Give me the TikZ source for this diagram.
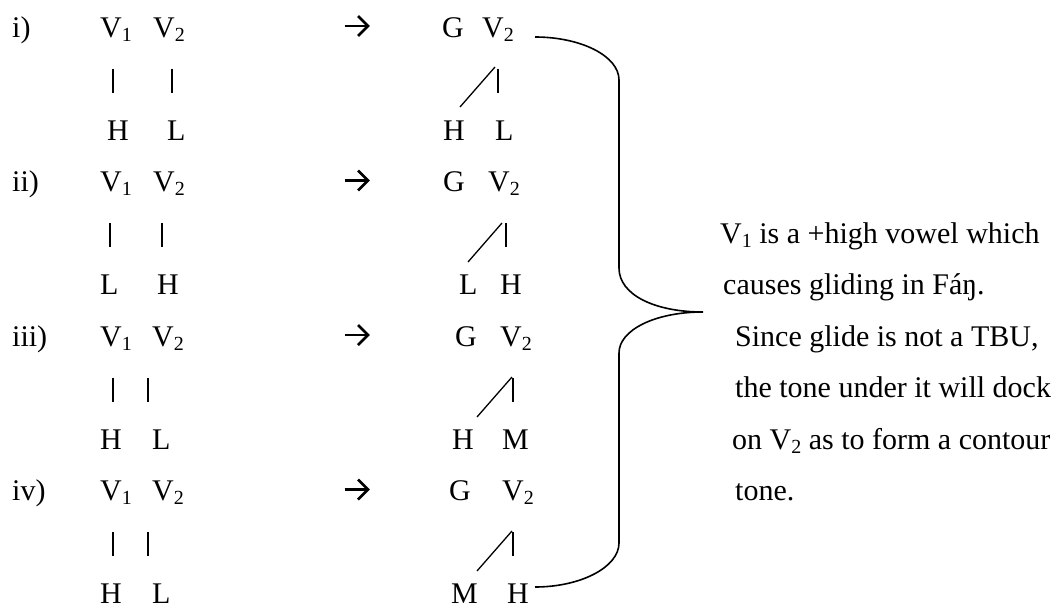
\documentclass[tikz,border=0pt]{standalone}
\usepackage{fontspec}
\setmainfont{Liberation Serif}
\newcommand\lsub[1]{\raisebox{-4pt}{\fontsize{20}{20}\selectfont #1}}
\tikzset{
  txt/.style={anchor=base west, inner sep=0pt, font=\fontsize{30}{36}\selectfont},
  assoc/.style={line width=1.3pt},
  bracepath/.style={line width=1.6pt},
  rarr/.pic={
    \draw[line width=2.6pt] (-12.5,0) -- (11,0);
    \draw[line width=2.6pt, line join=miter] (1,-10) -- (11,0) -- (1,10);
  }
}
\begin{document}
\begin{tikzpicture}[x=1pt,y=-1pt]
\useasboundingbox (0,0) rectangle (1053,608);

% ---------- row i ----------
\node[txt] (li) at (12,37) {i)};
\node[txt] (av1) at (100,37) {V\lsub{1}};
\node[txt] (av2) at (153,37) {V\lsub{2}};
\coordinate (ab1t) at (113,68.5); \coordinate (ab1b) at (113,92.5);
\coordinate (ab2t) at (172,68.5); \coordinate (ab2b) at (172,92.5);
\draw[assoc] (ab1t) -- (ab1b); \draw[assoc] (ab2t) -- (ab2b);
\node[txt] (at1) at (107,140) {H};
\node[txt] (at2) at (167,140) {L};
\pic at (357,26) {rarr};
\node[txt] (ag) at (442,37) {G};
\node[txt] (agv) at (482,37) {V\lsub{2}};
\coordinate (ad1) at (460,107); \coordinate (ad2) at (495,67);
\coordinate (ac1) at (498,68.5); \coordinate (ac2) at (498,92.5);
\draw[assoc] (ad1) -- (ad2); \draw[assoc] (ac1) -- (ac2);
\node[txt] (ar1) at (443,140) {H};
\node[txt] (ar2) at (495,140) {L};

% ---------- row ii ----------
\node[txt] (lii) at (12,191.5) {ii)};
\node[txt] (bv1) at (100,191.5) {V\lsub{1}};
\node[txt] (bv2) at (153,191.5) {V\lsub{2}};
\coordinate (bb1t) at (110,223); \coordinate (bb1b) at (110,247);
\coordinate (bb2t) at (162,223); \coordinate (bb2b) at (162,247);
\draw[assoc] (bb1t) -- (bb1b); \draw[assoc] (bb2t) -- (bb2b);
\node[txt] (bt1) at (100,294.5) {L};
\node[txt] (bt2) at (157,294.5) {H};
\pic at (357,180.5) {rarr};
\node[txt] (bg) at (443,191.5) {G};
\node[txt] (bgv) at (488,191.5) {V\lsub{2}};
\coordinate (bd1) at (468,262); \coordinate (bd2) at (502,223);
\coordinate (bc1) at (506,223); \coordinate (bc2) at (506,247);
\draw[assoc] (bd1) -- (bd2); \draw[assoc] (bc1) -- (bc2);
\node[txt] (br1) at (459,294.5) {L};
\node[txt] (br2) at (500,294.5) {H};

% ---------- row iii ----------
\node[txt] (liii) at (12,346) {iii)};
\node[txt] (cv1) at (100,346) {V\lsub{1}};
\node[txt] (cv2) at (152,346) {V\lsub{2}};
\coordinate (cb1t) at (113,377.5); \coordinate (cb1b) at (113,401.5);
\coordinate (cb2t) at (148,377.5); \coordinate (cb2b) at (148,401.5);
\draw[assoc] (cb1t) -- (cb1b); \draw[assoc] (cb2t) -- (cb2b);
\node[txt] (ct1) at (100,449) {H};
\node[txt] (ct2) at (152,449) {L};
\pic at (357,335) {rarr};
\node[txt] (cg) at (455,346) {G};
\node[txt] (cgv) at (500,346) {V\lsub{2}};
\coordinate (cd1) at (477,417); \coordinate (cd2) at (512,377);
\coordinate (cc1) at (513,377.5); \coordinate (cc2) at (513,401.5);
\draw[assoc] (cd1) -- (cd2); \draw[assoc] (cc1) -- (cc2);
\node[txt] (cr1) at (452,449) {H};
\node[txt] (cr2) at (502,449) {M};

% ---------- row iv ----------
\node[txt] (liv) at (12,500.5) {iv)};
\node[txt] (dv1) at (100,500.5) {V\lsub{1}};
\node[txt] (dv2) at (152,500.5) {V\lsub{2}};
\coordinate (db1t) at (113,532); \coordinate (db1b) at (113,556);
\coordinate (db2t) at (148,532); \coordinate (db2b) at (148,556);
\draw[assoc] (db1t) -- (db1b); \draw[assoc] (db2t) -- (db2b);
\node[txt] (dt1) at (100,603.5) {H};
\node[txt] (dt2) at (152,603.5) {L};
\pic at (357,489.5) {rarr};
\node[txt] (dg) at (449,500.5) {G};
\node[txt] (dgv) at (502,500.5) {V\lsub{2}};
\coordinate (dd1) at (477,571); \coordinate (dd2) at (512,531);
\coordinate (dc1) at (513,532); \coordinate (dc2) at (513,556);
\draw[assoc] (dd1) -- (dd2); \draw[assoc] (dc1) -- (dc2);
\node[txt] (dr1) at (451,603.5) {M};
\node[txt] (dr2) at (507,603.5) {H};

% ---------- brace ----------
\draw[bracepath] (535,37) .. controls (581,37) and (619,56) .. (619,80)
  -- (619,268) .. controls (619,295) and (655,312) .. (703,312)
  .. controls (655,312) and (619,330) .. (619,353)
  -- (619,543) .. controls (619,567) and (581,587) .. (535,587);

% ---------- explanation ----------
\node[txt] (e1) at (720,243) {V\lsub{1} is a +high vowel which};
\node[txt] (e2) at (723,294.5) {causes gliding in Fáŋ.};
\node[txt] (e3) at (735,346) {Since glide is not a TBU,};
\node[txt] (e4) at (735,397.5) {the tone under it will dock};
\node[txt] (e5) at (732,449) {on V\lsub{2} as to form a contour};
\node[txt] (e6) at (735,500.5) {tone.};
\end{tikzpicture}
\end{document}
